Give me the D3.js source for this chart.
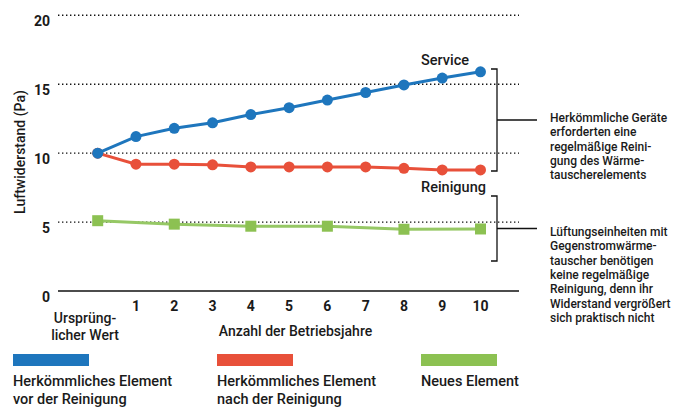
<!DOCTYPE html>
<html>
<head>
<meta charset="utf-8">
<script src="https://cdn.jsdelivr.net/npm/d3@7"></script>
<style>
  html, body { margin: 0; padding: 0; background: #fff; }
  svg text { font-family: Roboto, "DejaVu Sans", sans-serif; fill: #1a1a1a; }
</style>
</head>
<body>
<svg id="chart" width="688" height="407"></svg>
<script>
// Betriebsjahre (0 = ursprünglicher Wert)
const years = [0, 1, 2, 3, 4, 5, 6, 7, 8, 9, 10];
const yearTickLabels = ["1", "2", "3", "4", "5", "6", "7", "8", "9", "10"];
const yTicks = [0, 5, 10, 15, 20];

// Luftwiderstand (Pa)
const beforeCleaning = [10.0, 11.2, 11.8, 12.2, 12.8, 13.3, 13.85, 14.4, 14.95, 15.45, 15.9];
const afterCleaning  = [10.0, 9.2, 9.2, 9.15, 9.0, 9.0, 9.0, 9.0, 8.9, 8.78, 8.78];
const newYears = [0, 2, 4, 6, 8, 10];
const newElement = [5.1, 4.85, 4.7, 4.7, 4.48, 4.5];

const seriesNames = [
  ["Herkömmliches Element", "vor der Reinigung"],
  ["Herkömmliches Element", "nach der Reinigung"],
  ["Neues Element"]
];
const colors = ["#1e76bd", "#e8503a", "#8cc152"];

const noteTop = ["Herkömmliche Geräte", "erforderten eine", "regelmäßige Reini-", "gung des Wärme-", "tauscherelements"];
const noteBottom = ["Lüftungseinheiten mit", "Gegenstromwärme-", "tauscher benötigen", "keine regelmäßige", "Reinigung, denn ihr", "Widerstand vergrößert", "sich praktisch nicht"];

const svg = d3.select("#chart");
const x = d3.scaleLinear().domain([0, 10]).range([97.7, 480.5]);
const y = d3.scaleLinear().domain([0, 20]).range([291, 15.3]);
const gridX0 = 58, gridX1 = 519;

// dotted grid lines
svg.append("g").selectAll("line")
  .data(yTicks.filter(d => d > 0)).join("line")
  .attr("x1", gridX0).attr("x2", gridX1)
  .attr("y1", d => y(d)).attr("y2", d => y(d))
  .attr("stroke", "#111").attr("stroke-width", 1.4)
  .attr("stroke-dasharray", "1.4,2.6");

// baseline
svg.append("line")
  .attr("x1", gridX0).attr("x2", gridX1)
  .attr("y1", y(0)).attr("y2", y(0))
  .attr("stroke", "#111").attr("stroke-width", 1.6);

// y tick labels
svg.append("g").selectAll("text")
  .data(yTicks).join("text")
  .attr("x", 50).attr("y", d => y(d) + 11)
  .attr("text-anchor", "end")
  .attr("font-size", 14).attr("font-weight", 700)
  .text(d => d);

// y axis title
svg.append("text")
  .attr("transform", "translate(25,152) rotate(-90)")
  .attr("text-anchor", "middle")
  .attr("font-size", 14).attr("font-weight", 500)
  .text("Luftwiderstand (Pa)");

// x tick labels
svg.append("g").selectAll("text")
  .data(yearTickLabels).join("text")
  .attr("x", (d, i) => x(i + 1)).attr("y", 311)
  .attr("text-anchor", "middle")
  .attr("font-size", 14).attr("font-weight", 700)
  .text(d => d);

svg.append("text")
  .attr("x", 85).attr("text-anchor", "middle")
  .attr("font-size", 14).attr("font-weight", 500)
  .selectAll("tspan").data(["Ursprüng-", "licher Wert"]).join("tspan")
  .attr("x", 85).attr("y", (d, i) => 323 + i * 16.5)
  .text(d => d);

svg.append("text")
  .attr("x", 295.5).attr("y", 336)
  .attr("text-anchor", "middle")
  .attr("font-size", 14).attr("font-weight", 500)
  .text("Anzahl der Betriebsjahre");

// lines
const line = d3.line().x(d => x(d[0])).y(d => y(d[1]));

svg.append("path")
  .datum(newYears.map((t, i) => [t, newElement[i]]))
  .attr("d", line).attr("fill", "none")
  .attr("stroke", "#96c865").attr("stroke-width", 3);
svg.append("g").selectAll("rect")
  .data(newYears.map((t, i) => [t, newElement[i]])).join("rect")
  .attr("x", d => x(d[0]) - 5.5).attr("y", d => y(d[1]) - 5.5)
  .attr("width", 11).attr("height", 11)
  .attr("fill", colors[2]);

[[afterCleaning, colors[1]], [beforeCleaning, colors[0]]].forEach(([vals, c]) => {
  const pts = years.map((t, i) => [t, vals[i]]);
  svg.append("path").datum(pts)
    .attr("d", line).attr("fill", "none")
    .attr("stroke", c).attr("stroke-width", 3);
  svg.append("g").selectAll("circle")
    .data(pts).join("circle")
    .attr("cx", d => x(d[0])).attr("cy", d => y(d[1]))
    .attr("r", 5.5).attr("fill", c);
});

// series callouts
svg.append("text").attr("x", 421).attr("y", 65)
  .attr("font-size", 14.5).attr("font-weight", 500).text("Service");
svg.append("text").attr("x", 421).attr("y", 192)
  .attr("font-size", 14.5).attr("font-weight", 500).text("Reinigung");

// brackets
function bracket(top, bottom) {
  const bx = 497, mid = (top + bottom) / 2;
  svg.append("path")
    .attr("d", `M${bx - 6},${top} H${bx} V${bottom} H${bx - 6} M${bx},${mid} H537`)
    .attr("fill", "none").attr("stroke", "#111").attr("stroke-width", 1.3);
}
bracket(69, 171);
bracket(196, 261);

function note(lines, y0) {
  svg.append("text")
    .attr("font-size", 12).attr("font-weight", 500)
    .selectAll("tspan").data(lines).join("tspan")
    .attr("x", 550).attr("y", (d, i) => y0 + i * 14.3)
    .text(d => d);
}
note(noteTop, 122);
note(noteBottom, 236);

// legend
const legendX = [13, 217, 421];
seriesNames.forEach((lines, i) => {
  svg.append("rect")
    .attr("x", legendX[i]).attr("y", 354)
    .attr("width", 76).attr("height", 12)
    .attr("fill", colors[i]);
  svg.append("text")
    .attr("font-size", 14.5).attr("font-weight", 500)
    .selectAll("tspan").data(lines).join("tspan")
    .attr("x", legendX[i]).attr("y", (d, j) => 385.5 + j * 18.3)
    .text(d => d);
});
</script>
</body>
</html>
